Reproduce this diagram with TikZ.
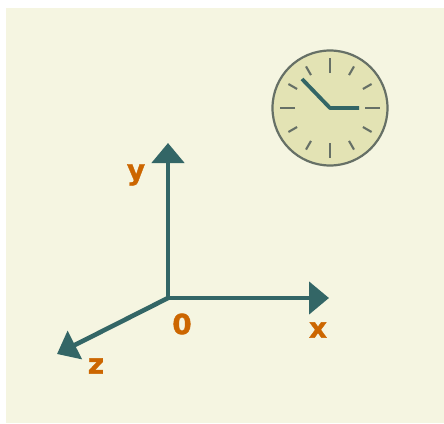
\documentclass[tikz,border=0pt]{standalone}
\usepackage{fontspec}
\setmainfont{DejaVu Sans}
\newfontfamily\labfont[FakeBold=1.2]{DejaVu Sans Bold}
\usetikzlibrary{arrows.meta,calc}
\definecolor{bgc}{HTML}{F5F5E1}
\definecolor{axisc}{HTML}{336666}
\definecolor{lab}{HTML}{CC6600}
\definecolor{face}{HTML}{E3E3B4}
\definecolor{rim}{HTML}{667066}
\tikzset{
  axisline/.style={draw=axisc,line width=4.6pt,-{Triangle[length=20pt,width=32pt,fill=axisc]}},
  axislabel/.style={text=lab,font=\fontsize{28}{28}\labfont,inner sep=0pt},
  ticka/.style={draw=rim,line width=2.1pt},
  hand/.style={draw=axisc,line width=3.8pt},
}
\begin{document}
\begin{tikzpicture}[x=1pt,y=-1pt]
\useasboundingbox (0,0) rectangle (444,423);
\fill[white] (0,0) rectangle (444,423);
\fill[bgc] (6,8) rectangle (444,423);
% axes
\coordinate (o) at (168,298);
\coordinate (ytip) at (168,143);
\coordinate (xtip) at (329,298);
\coordinate (ztip) at (57,354);
\draw[axisline] (o) -- (ytip);
\draw[axisline] (o) -- (xtip);
\draw[axisline,-{Triangle[length=20pt,width=31pt,fill=axisc]}] (o) -- (ztip);
\node[axislabel] (ly) at (136,175) {y};
\node[axislabel] (lx) at (318,330) {x};
\node[axislabel] (lz) at (96,366) {z};
\node[axislabel] (l0) at (182,324) {0};
% clock
\coordinate (c) at (330,108);
\draw[fill=face,draw=rim,line width=2.2pt] (c) circle (57.5);
\foreach \a in {0,90,180,270}
  \draw[ticka] ($(c)+(\a:35)$) -- ($(c)+(\a:50)$);
\foreach \a in {30,60,120,150,210,240,300,330}
  \draw[ticka] ($(c)+(\a:38)$) -- ($(c)+(\a:48)$);
\coordinate (hh) at (359,108);
\coordinate (mh) at (302,79);
\draw[hand,line join=round] (hh) -- (c) -- (mh);
\end{tikzpicture}
\end{document}
